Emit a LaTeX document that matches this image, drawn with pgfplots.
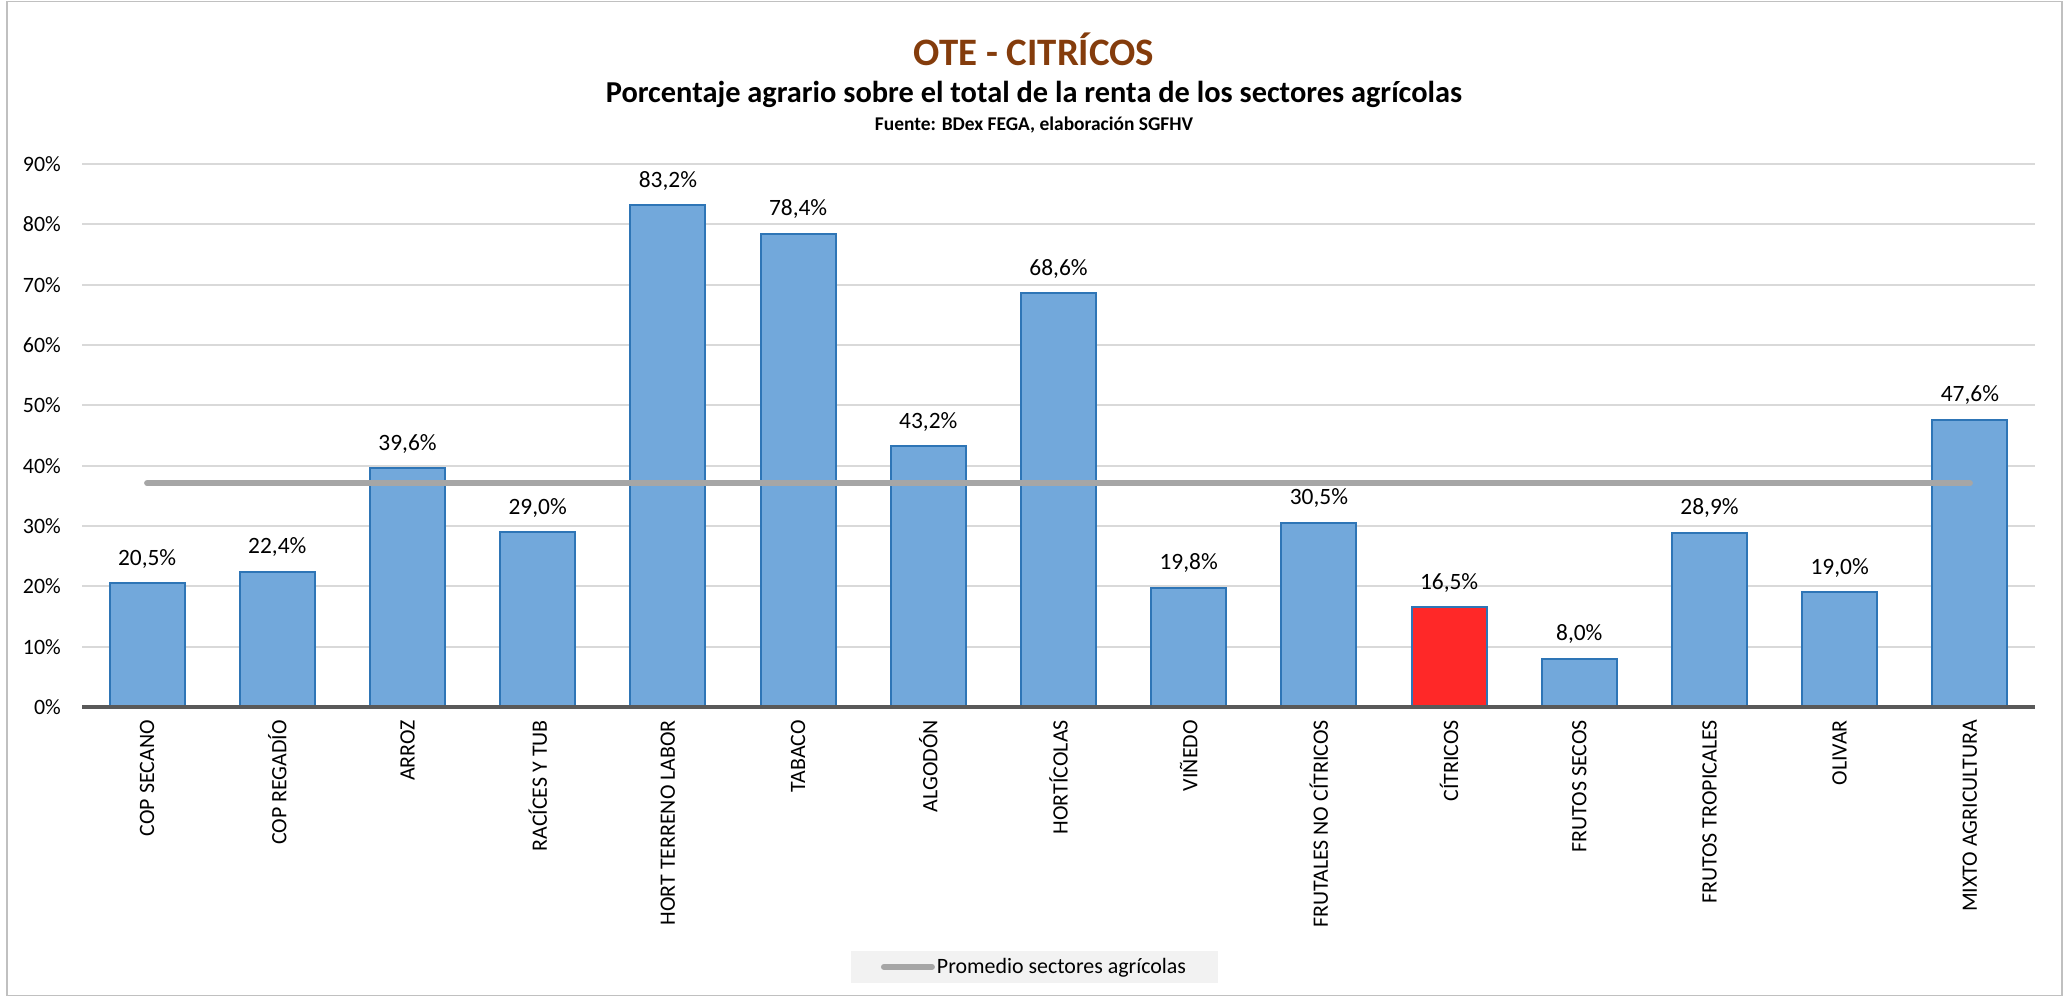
\documentclass[border=0pt]{standalone}
\usepackage{fontspec}
\setmainfont{Carlito}
\usepackage{pgfplots}
\pgfplotsset{compat=1.18}

\definecolor{barblue}{HTML}{72A8DB}
\definecolor{baredge}{HTML}{2E75B6}
\definecolor{barred}{HTML}{FF2828}
\definecolor{titlebrown}{HTML}{843C0C}
\definecolor{avggray}{HTML}{A6A6A6}
\definecolor{gridgray}{HTML}{D9D9D9}
\definecolor{axisgray}{HTML}{595959}
\definecolor{legfill}{HTML}{F2F2F2}
\definecolor{framegray}{HTML}{C0C0C0}

\begin{document}
\begin{tikzpicture}
\useasboundingbox (0,0) rectangle (2069bp,997bp);
\draw[framegray, line width=1.5bp] (7bp,1.5bp) rectangle (2062bp,995.5bp);

% titles
\node[font=\fontsize{39}{44}\selectfont\bfseries, text=titlebrown] at (1034bp,948bp) {OTE - CITRÍCOS};
\node[font=\fontsize{30.5}{35}\selectfont\bfseries] at (1034bp,903bp) {Porcentaje agrario sobre el total de la renta de los sectores agrícolas};
\node[font=\fontsize{19.5}{23}\selectfont\bfseries] at (1034bp,872bp) {Fuente: BDex FEGA, elaboración SGFHV};

\begin{axis}[
    at={(82bp,290bp)}, anchor=south west,
    scale only axis, width=1953bp, height=543bp,
    xmin=-0.5, xmax=14.5, ymin=0, ymax=90,
    clip=false,
    axis line style={draw=none},
    major tick length=0pt,
    ytick={0,10,...,90},
    ymajorgrids,
    grid style={draw=gridgray, line width=2bp},
    /pgf/number format/assume math mode=true,
    yticklabel={\pgfmathprintnumber{\tick}\%},
    yticklabel style={font=\fontsize{22}{26}\selectfont, anchor=east, inner sep=0pt, xshift=-21bp},
    xtick={0,...,14},
    xticklabels={COP SECANO, COP REGADÍO, ARROZ, RACÍCES Y TUB, HORT TERRENO LABOR, TABACO, ALGODÓN, HORTÍCOLAS, VIÑEDO, FRUTALES NO CÍTRICOS, CÍTRICOS, FRUTOS SECOS, FRUTOS TROPICALES, OLIVAR, MIXTO AGRICULTURA},
    xticklabel style={font=\fontsize{22}{26}\selectfont, rotate=90, anchor=east, inner xsep=13bp, inner ysep=0pt},
    legend style={at={(0.4877,-0.4788)}, anchor=center, fill=legfill, draw=none,
        font=\fontsize{22}{26}\selectfont, inner xsep=30bp, inner ysep=6bp},
    legend image code/.code={\draw[avggray, line width=6bp, line cap=round] (0bp,0bp) -- (48bp,0bp);},
    nodes near coords={\pgfmathprintnumber[fixed,fixed zerofill,precision=1,use comma]{\pgfplotspointmeta}\%},
    nodes near coords style={font=\fontsize{23.5}{27}\selectfont, anchor=base, inner sep=0pt, yshift=18bp, text=black},
]
% blue bars
\addplot[ybar, bar width=75bp, bar shift=0pt, fill=barblue, draw=baredge, line width=2bp, forget plot]
coordinates {(0,20.5) (1,22.4) (2,39.6) (3,29.0) (4,83.2) (5,78.4) (6,43.2) (7,68.6) (8,19.8) (9,30.5) (11,8.0) (12,28.9) (13,19.0) (14,47.6)};
% highlighted bar
\addplot[ybar, bar width=75bp, bar shift=0pt, fill=barred, draw=baredge, line width=2bp, forget plot]
coordinates {(10,16.5)};
% average
\addplot[avggray, line width=6bp, line cap=round, mark=none, nodes near coords={}]
coordinates {(0,37.1) (14,37.1)};
\addlegendentry{Promedio sectores agrícolas}
\draw[axisgray, line width=3.5bp] (axis cs:-0.5,0) -- (axis cs:14.5,0);
\end{axis}
\end{tikzpicture}
\end{document}
